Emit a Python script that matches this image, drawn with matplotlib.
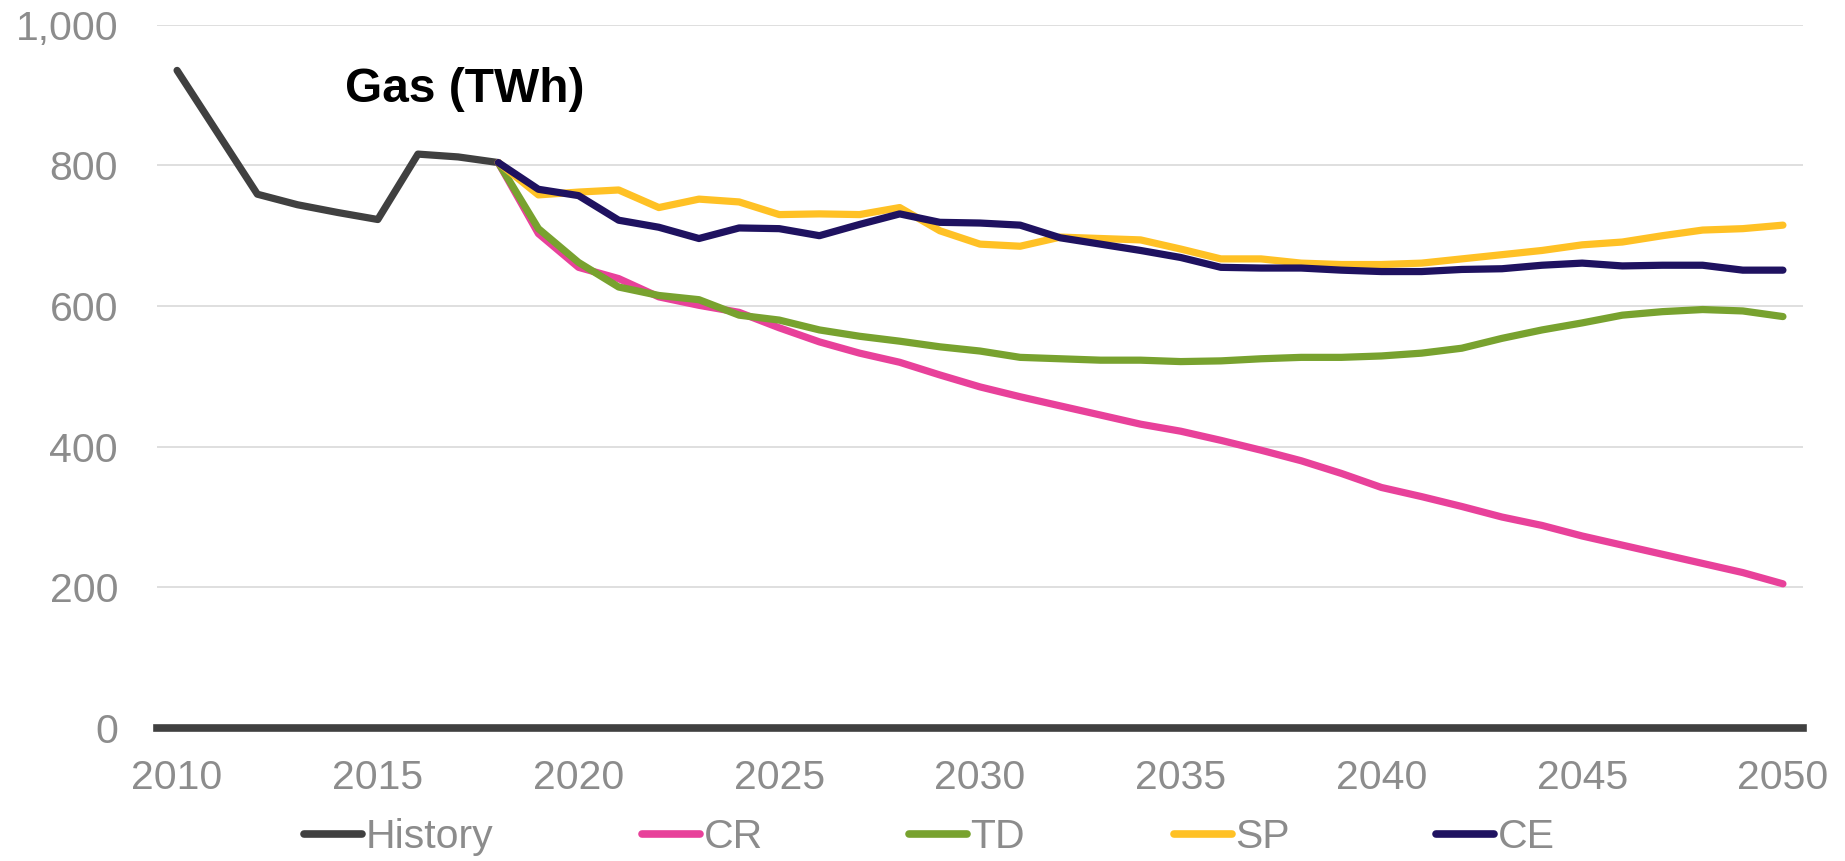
"""
Gas demand (TWh): history to 2018, then four scenario paths to 2050.
"""

import numpy as np
import matplotlib
matplotlib.use("Agg")
import matplotlib.pyplot as plt
from matplotlib.ticker import FuncFormatter

plt.rcParams["font.family"] = ["Liberation Sans", "DejaVu Sans"]

# --- Data --------------------------------------------------------------
years_hist = list(range(2010, 2019))
history = [935, 847, 759, 744, 733, 723, 816, 812, 804]

years_scen = list(range(2018, 2051))
cr = [804, 703, 655, 639, 613, 601, 591, 569, 549, 533, 520, 502, 485, 471,
      458, 445, 432, 422, 409, 395, 380, 362, 342, 329, 315, 300, 288, 273,
      260, 247, 234, 221, 205]
td = [804, 710, 662, 627, 615, 609, 587, 580, 566, 557, 550, 542, 536, 527,
      525, 523, 523, 521, 522, 525, 527, 527, 529, 533, 540, 554, 566, 576,
      587, 592, 595, 593, 585]
sp = [804, 758, 762, 765, 740, 752, 748, 730, 731, 730, 740, 707, 688, 685,
      698, 696, 694, 681, 667, 667, 661, 659, 659, 661, 667, 673, 679, 687,
      691, 700, 708, 710, 715]
ce = [804, 766, 757, 722, 712, 696, 711, 710, 700, 716, 731, 719, 718, 715,
      697, 688, 679, 669, 655, 654, 654, 651, 649, 649, 652, 653, 658, 661,
      657, 658, 658, 651, 651]

series_names = ["History", "CR", "TD", "SP", "CE"]
series_colours = ["#404040", "#E8419A", "#78A22F", "#FFC125", "#1F1260"]

x_ticks = list(range(2010, 2051, 5))
y_ticks = list(range(0, 1001, 200))

# --- Figure ------------------------------------------------------------
W, H = 1845, 861
fig = plt.figure(figsize=(W / 100, H / 100), dpi=100)
ax = fig.add_axes([157 / W, 1 - 728 / H, (1803 - 157) / W, (728 - 24.7) / H])

GREY = "#8C8C8C"
LW = 5.2

lines = []
data = [(years_hist, history), (years_scen, cr), (years_scen, td),
        (years_scen, sp), (years_scen, ce)]
for (xs, ys), name, colour in zip(data, series_names, series_colours):
    ln, = ax.plot(xs, ys, color=colour, linewidth=LW, label=name,
                  solid_capstyle="round", solid_joinstyle="round", zorder=3)
    lines.append(ln)

ax.set_xlim(2009.5, 2050.5)
ax.set_ylim(0, 1000)
ax.set_xticks(x_ticks)
ax.set_yticks(y_ticks)
ax.yaxis.set_major_formatter(FuncFormatter(lambda v, _: f"{v:,.0f}"))
ax.tick_params(axis="both", length=0, labelsize=29.5, labelcolor=GREY)
ax.tick_params(axis="y", pad=28)
ax.tick_params(axis="x", pad=22)

ax.grid(axis="y", color="#D9D9D9", linewidth=1.2, zorder=0)
ax.set_axisbelow(True)
for side in ["top", "right", "left"]:
    ax.spines[side].set_visible(False)
ax.spines["bottom"].set_color("#404040")
ax.spines["bottom"].set_linewidth(5.5)
ax.spines["bottom"].set_zorder(4)

ax.text(345 / W, 1 - 89 / H, "Gas (TWh)", transform=fig.transFigure,
        fontsize=34.5, fontweight="bold", color="black", va="center", ha="left")

# Legend: one small legend per series so spacing can follow the original.
legend_x = [304, 642, 909, 1174, 1436]
for ln, x0 in zip(lines, legend_x):
    leg = fig.legend(handles=[ln], labels=[ln.get_label()], loc="center left",
                     bbox_to_anchor=(x0 / W, 1 - 837 / H), frameon=False,
                     borderpad=0, borderaxespad=0, handlelength=1.42,
                     handletextpad=0.08, fontsize=29.5)
    for t in leg.get_texts():
        t.set_color(GREY)
    for h in leg.legend_handles:
        h.set_linewidth(5.5)
        h.set_solid_capstyle("round")

fig.savefig("out.png", dpi=100)
plt.close(fig)
